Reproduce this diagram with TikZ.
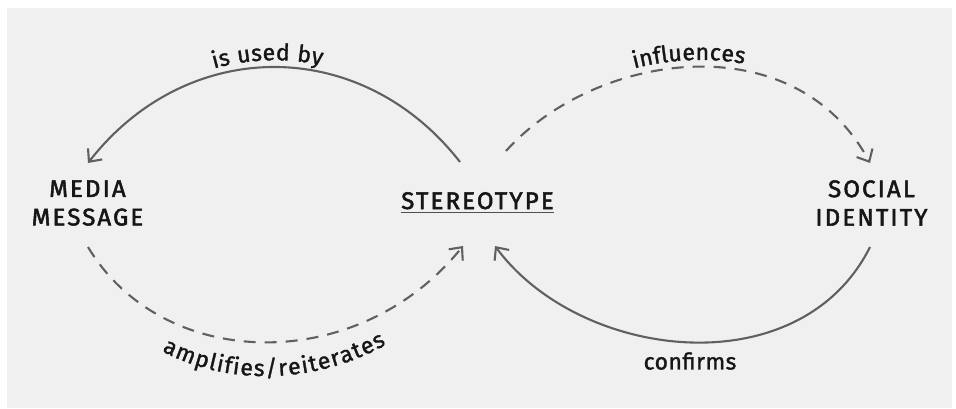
\documentclass[tikz,border=0pt]{standalone}
\usepackage{fontspec}
\setmainfont{Fira Sans}
\newfontfamily\nodefont{Fira Sans}[LetterSpace=9,FakeBold=2.2]
\newfontfamily\labfont{Fira Sans}[LetterSpace=2,FakeBold=1.4]
\usetikzlibrary{arrows.meta,decorations.text}
\definecolor{bg}{HTML}{F0F0F0}
\definecolor{ln}{HTML}{606060}
\definecolor{tx}{HTML}{161616}
\begin{document}
\begin{tikzpicture}[x=1pt,y=1pt,
  concept/.style={text=tx,font=\nodefont\fontsize{24}{28.5}\selectfont,align=center,inner sep=0pt},
  conn/.style={draw=ln,line width=2.1pt,-{Straight Barb[length=10pt,width=18pt,line width=2.1pt]}},
  dashconn/.style={conn,dash pattern=on 12pt off 9pt},
  lab/.style={text=tx,font=\labfont\fontsize{23}{27}\selectfont,inner sep=0pt},
  curvlab/.style={decorate,decoration={text along path,text color=tx,
     text={|\labfont\fontsize{23}{27}\selectfont|#1}}}]
\useasboundingbox (0,0) rectangle (956,408);
\fill[white] (0,0) rectangle (956,408);
\fill[bg] (7,0) rectangle (952,400);

\node[concept] (media) at (87.5,205) {MEDIA\\MESSAGE};
\node[concept,anchor=base] (stereo) at (477.5,199) {STEREOTYPE};
\draw[tx!75,line width=1.5pt] ([yshift=-3.5pt]stereo.base west) -- ([yshift=-3.5pt]stereo.base east);
\node[concept] (social) at (871.5,205) {SOCIAL\\IDENTITY};

% end points near the nodes
\coordinate (s1) at (460,246);
\coordinate (s2) at (506,257);
\coordinate (s3) at (463,162);
\coordinate (s4) at (495,162);
\coordinate (m1) at (88,245);
\coordinate (m2) at (88,161);
\coordinate (i1) at (870,245);
\coordinate (i2) at (870,161);

% is used by
\draw[conn] (s1) .. controls (361,373) and (187,372) .. (m1);
\path[curvlab={is used by},decoration={raise=7pt,text align={align=center,right indent=12pt}}] (m1) .. controls (187,372) and (361,373) .. (s1);

% influences
\draw[dashconn] (s2) .. controls (596,357) and (795,385) .. (i1);
\path[curvlab={influences},decoration={raise=7pt,text align={align=center,right indent=10pt}}] (s2) .. controls (596,357) and (795,385) .. (i1);

% amplifies/reiterates
\draw[dashconn] (m2) .. controls (163,36) and (358,32) .. (s3);
\path[curvlab={amplifies/reiterates},decoration={raise=0pt,text align={fit to path,left indent=103pt,right indent=101pt}}] (88,127) .. controls (163,2) and (358,-2) .. (463,128);

% confirms
\draw[conn] (i2) .. controls (800,21) and (580,47) .. (s4);
\node[lab] (conf) at (690,47) {confirms};
\end{tikzpicture}
\end{document}
